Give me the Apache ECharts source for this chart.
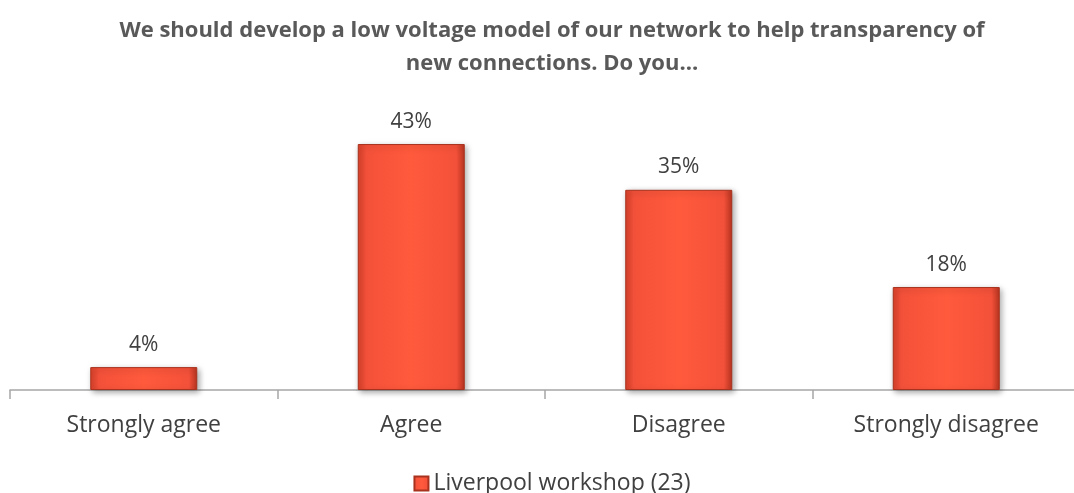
<!DOCTYPE html>
<html lang="en">
<head>
    <meta charset="UTF-8">
    <title>survey</title>
    <script src="https://cdn.jsdelivr.net/npm/echarts@6/dist/echarts.min.js"></script>
    <style>
        html, body { margin: 0; padding: 0; background: #fff; overflow: hidden; }
        #chart { width: 1104px; height: 493px; }
    </style>
</head>
<body>
<div id="chart"></div>
<script>
    var categories = ['Strongly agree', 'Agree', 'Disagree', 'Strongly disagree'];
    var values = [4, 43, 35, 18];
    var seriesName = 'Liverpool workshop (23)';
    var titleText = 'We should develop a low voltage model of our network to help transparency of\nnew connections. Do you...';

    // div is wider than the window so the plot runs off the right edge like the original
    var myChart = echarts.init(document.getElementById('chart'));
    var barColor = new echarts.graphic.LinearGradient(0, 0, 1, 0, [
        { offset: 0, color: '#D9412A' },
        { offset: 0.08, color: '#F4513A' },
        { offset: 0.5, color: '#FF5A3C' },
        { offset: 0.92, color: '#F4513A' },
        { offset: 1, color: '#B8341F' }
    ]);
    myChart.setOption({
        textStyle: { fontFamily: 'Open Sans' },
        title: {
            text: titleText,
            left: 'center',
            top: 9,
            textStyle: {
                fontFamily: 'Open Sans',
                fontSize: 22,
                fontWeight: 'bold',
                color: '#595959',
                lineHeight: 33
            }
        },
        legend: {
            top: 467,
            left: 'center',
            itemWidth: 14,
            itemHeight: 14,
            icon: 'rect',
            textStyle: { fontSize: 23, color: '#404040', fontFamily: 'Open Sans' },
            data: [seriesName]
        },
        grid: { left: 10, right: 24, top: 104, bottom: 103 },
        xAxis: {
            type: 'category',
            data: categories,
            axisLine: { lineStyle: { color: '#A6A6A6', width: 1.5 } },
            axisTick: { show: true, length: 9, lineStyle: { color: '#A6A6A6', width: 1.5 } },
            axisLabel: { fontSize: 23, color: '#404040', margin: 24, fontFamily: 'Open Sans' }
        },
        yAxis: {
            type: 'value',
            min: 0,
            max: 50,
            show: false,
            splitLine: { show: false }
        },
        series: [{
            name: seriesName,
            type: 'bar',
            data: values,
            barWidth: '40%',
            itemStyle: {
                color: barColor,
                borderColor: '#A8321E',
                borderWidth: 1,
                shadowColor: 'rgba(0,0,0,0.35)',
                shadowBlur: 6,
                shadowOffsetX: 2,
                shadowOffsetY: 2
            },
            label: {
                show: true,
                position: 'top',
                distance: 12,
                formatter: '{c}%',
                fontSize: 21,
                color: '#404040',
                fontFamily: 'Open Sans'
            }
        }]
    });
</script>
</body>
</html>
